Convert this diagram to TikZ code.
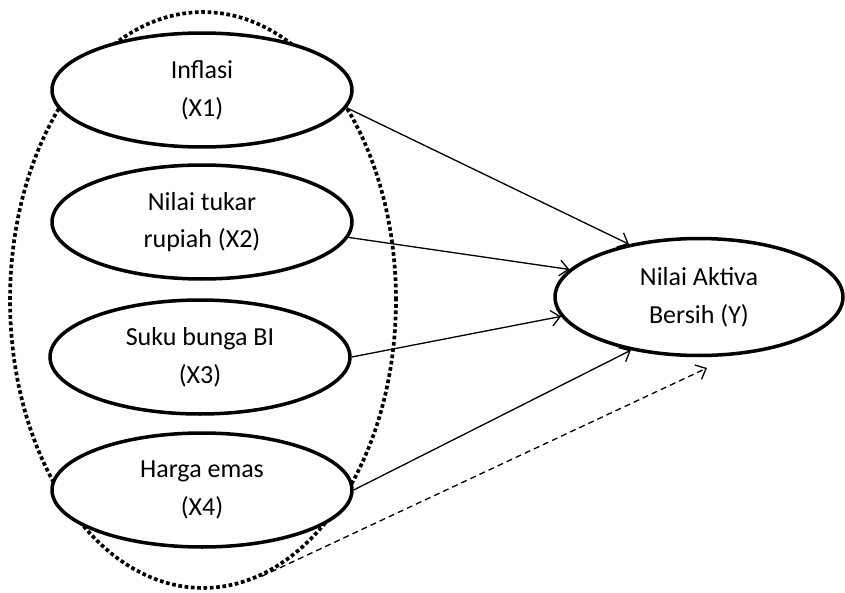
\documentclass[tikz,border=0pt]{standalone}
\usepackage{fontspec}
\setmainfont{Carlito}
\usepackage{tikz}
\usetikzlibrary{arrows.meta,shapes,positioning}

\begin{document}
\begin{tikzpicture}[x=0.02cm,y=-0.02cm,
    var/.style={ellipse,draw,line width=2pt,fill=white,minimum width=6cm,minimum height=2.28cm,align=center,inner sep=0pt,font=\fontsize{14.8}{21.5}\selectfont},
    group/.style={ellipse,draw,line width=2.1pt,dash pattern=on 2.1pt off 1.5pt,minimum width=7.72cm,minimum height=11.52cm,inner sep=0pt},
    path/.style={line width=0.75pt,-{Straight Barb[length=5pt,width=9pt]}}]
  \useasboundingbox (0,0) rectangle (845,592);

    \node[group] (G) at (203,300) {};

      \node[var] (X1) at (202,90) {Inflasi\\(X1)};
      \node[var] (X2) at (202,222) {Nilai tukar\\rupiah (X2)};
      \node[var] (X3) at (200,357) {Suku bunga BI\\(X3)};
      \node[var] (X4) at (202,490) {Harga emas\\(X4)};

        \node[var,minimum width=5.76cm,minimum height=2.34cm] (Y) at (699,297) {Nilai Aktiva\\Bersih (Y)};
        \coordinate (dY) at (707,368);

      \draw [path] (X1.-7) to (Y.143);
      \draw [path] (X2.-6) to (Y.168);
      \draw [path] (X3.east) to (Y.-172);
      \draw [path] (X4.east) to (Y.-142);
      \draw [path] [dash pattern=on 3.4pt off 2.3pt] (G.-78) to (dY);
\end{tikzpicture}
\end{document}
